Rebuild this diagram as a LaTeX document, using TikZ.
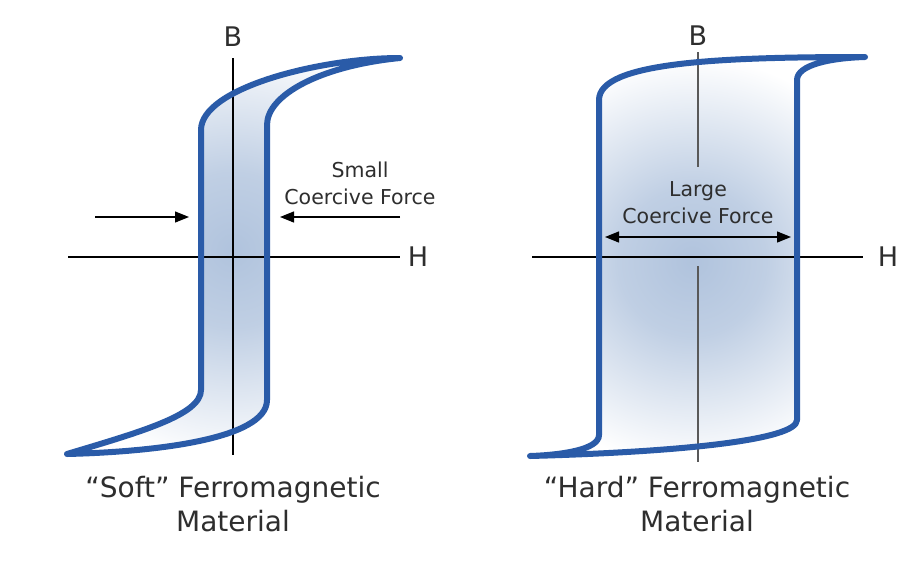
\documentclass[tikz,border=0pt]{standalone}
\usepackage{fontspec}
\setmainfont{DejaVu Sans}
\usetikzlibrary{positioning,arrows.meta}

\definecolor{loopblue}{HTML}{2A5BA8}
\definecolor{fillblue}{HTML}{B0C3DD}
\definecolor{textgray}{HTML}{2E2E2E}
\pgfdeclareradialshading{loopglow}{\pgfpoint{0bp}{0bp}}{%
  color(0bp)=(fillblue); color(9bp)=(fillblue!80!white);
  color(25bp)=(white); color(50bp)=(white)}

\begin{document}
\begin{tikzpicture}[
  x=1pt, y=-1pt,
  loop/.style={draw=loopblue, line width=6pt, line join=round, line cap=round},
  axis/.style={draw=black, line width=1.2pt},
  label/.style={text=textgray, font=\fontsize{27}{30}\selectfont, inner sep=0pt},
  caption/.style={text=textgray, align=center, font=\fontsize{28}{34}\selectfont, inner sep=0pt},
  note/.style={text=textgray, align=center, font=\fontsize{20.5}{27}\selectfont, inner sep=0pt},
  arrow/.style={-{Triangle[length=14pt, width=11pt]}, line width=1.2pt}
]
  \useasboundingbox[fill=white] (0,0) rectangle (923,570);

  % soft material loop
  \begin{scope}
    \clip (400,58) .. controls (320,58) and (201,88) .. (201,130) -- (201,390)
      .. controls (201,415) and (140,432) .. (67,454)
      .. controls (150,452) and (267,440) .. (267,400) -- (267,125)
      .. controls (267,95) and (320,66) .. (400,58) -- cycle;
    \shade[shading=loopglow] (233,250) circle (215);
  \end{scope}
  \coordinate (s-top) at (233,58);
  \coordinate (s-bot) at (233,455);
  \coordinate (s-left) at (68,257);
  \coordinate (s-right) at (400,257);
  \draw[axis] (s-top) -- (s-bot);
  \draw[axis] (s-left) -- (s-right);
  \draw[loop]
    (400,58) .. controls (320,58) and (201,88) .. (201,130) -- (201,390)
    .. controls (201,415) and (140,432) .. (67,454)
    .. controls (150,452) and (267,440) .. (267,400) -- (267,125)
    .. controls (267,95) and (320,66) .. (400,58);
  \node[label] (sB) at (233,37) {B};
  \node[label] (sH) at (418,257) {H};
  \node[note] (small) at (360,183) {Small\\Coercive Force};
  \coordinate (s-in1) at (95,217);
  \coordinate (s-out1) at (189,217);
  \coordinate (s-in2) at (400,217);
  \coordinate (s-out2) at (280,217);
  \draw[arrow] (s-in1) -- (s-out1);
  \draw[arrow] (s-in2) -- (s-out2);
  \node[caption] (soft) at (233,504) {“Soft” Ferromagnetic\\Material};

  % hard material loop
  \begin{scope}
    \clip (865,57) .. controls (720,57) and (599,62) .. (599,100) -- (599,435)
      .. controls (599,450) and (560,455) .. (530,456)
      .. controls (680,452) and (797,440) .. (797,420) -- (797,80)
      .. controls (797,65) and (830,58) .. (865,57) -- cycle;
    \shade[shading=loopglow] (692,262) circle (205);
  \end{scope}
  \coordinate (h-top) at (698,52);
  \coordinate (h-mid1) at (698,167);
  \coordinate (h-mid2) at (698,266);
  \coordinate (h-bot) at (698,462);
  \coordinate (h-left) at (532,257);
  \coordinate (h-right) at (863,257);
  \draw[axis, draw=black!65] (h-top) -- (h-mid1);
  \draw[axis, draw=black!65] (h-mid2) -- (h-bot);
  \draw[axis] (h-left) -- (h-right);
  \draw[loop]
    (865,57) .. controls (720,57) and (599,62) .. (599,100) -- (599,435)
    .. controls (599,450) and (560,455) .. (530,456)
    .. controls (680,452) and (797,440) .. (797,420) -- (797,80)
    .. controls (797,65) and (830,58) .. (865,57);
  \node[label] (hB) at (698,36) {B};
  \node[label] (hH) at (888,257) {H};
  \node[note] (large) at (698,203) {Large\\Coercive Force};
  \coordinate (h-arr1) at (605,237);
  \coordinate (h-arr2) at (791,237);
  \draw[arrow, {Triangle[length=14pt, width=11pt]}-{Triangle[length=14pt, width=11pt]}] (h-arr1) -- (h-arr2);
  \node[caption] (hard) at (697,504) {“Hard” Ferromagnetic\\Material};
\end{tikzpicture}
\end{document}
